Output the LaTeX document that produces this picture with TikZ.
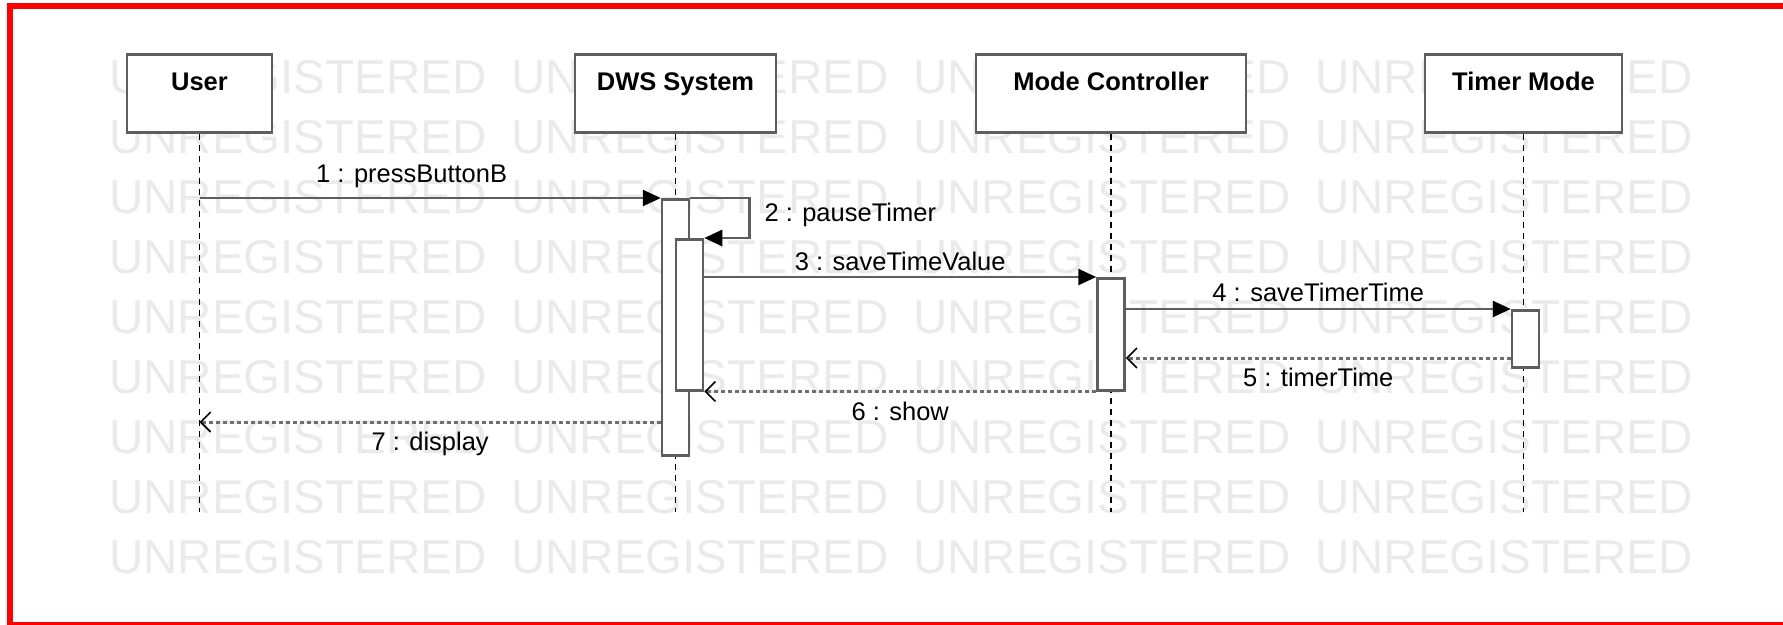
\documentclass[tikz,border=0pt]{standalone}
\usepackage{fontspec}
\setmainfont{Liberation Sans}
\usetikzlibrary{arrows.meta,positioning}

\definecolor{framered}{HTML}{FF0000}
\definecolor{linegray}{HTML}{5E5E5E}
\definecolor{dotgray}{HTML}{6E6E6E}
\definecolor{wmgray}{HTML}{EAEAEA}

\begin{document}
\begin{tikzpicture}[x=1pt, y=-1pt,
    head/.style={draw=linegray, line width=2.5pt, fill=white, anchor=north,
        font=\fontsize{25.5}{30}\selectfont\bfseries,
        text height=36pt, text depth=42pt, inner ysep=0pt, inner xsep=0pt},
    act/.style={draw=linegray, line width=2.5pt, fill=white, anchor=north,
        minimum width=27pt, inner sep=0pt},
    life/.style={black, line width=1.3pt, dash pattern=on 6pt off 5pt},
    call/.style={draw=linegray, line width=2.5pt,
        -{Triangle[length=18pt, width=16pt, color=black]}},
    reply/.style={draw=dotgray, line width=3pt, dash pattern=on 4pt off 3pt,
        -{Straight Barb[length=10pt, width=20pt, line width=1.6pt, color=black]}},
    msg/.style={font=\fontsize{25.5}{30}\selectfont, inner sep=2pt},
    wmark/.style={anchor=west, inner sep=0pt, text=wmgray,
        font=\fontsize{47.5}{50}\selectfont}]
    \useasboundingbox (0,0) rectangle (1783,624);

    % watermark rows
    \foreach \r in {0,...,8}
        \foreach \c in {0,...,3}
            \node[wmark] (wm-\r-\c) at (109+402*\c, 77+60*\r) {UNREGISTERED};

    % frame
    \draw[framered, line width=6pt] (10,624) -- (10,6) -- (1783,6);
    \draw[framered, line width=3pt] (7,623) -- (1783,623);

    % lifeline heads
    \node[head, minimum width=145pt] (user) at (199.5,53) {User};
    \node[head, minimum width=201pt] (dws) at (675.5,53) {DWS System};
    \node[head, minimum width=270pt] (ctrl) at (1111,53) {Mode Controller};
    \node[head, minimum width=197pt] (timer) at (1523.5,53) {Timer Mode};

    % lifelines
    \coordinate (userend) at (user.south |- 0,512);
    \coordinate (dwsend) at (dws.south |- 0,512);
    \coordinate (ctrlend) at (ctrl.south |- 0,512);
    \coordinate (timerend) at (timer.south |- 0,512);
    \draw[life] (user.south) -- (userend);
    \draw[life] (dws.south) -- (dwsend);
    \draw[life] (ctrl.south) -- (ctrlend);
    \draw[life] (timer.south) -- (timerend);

    % activations
    \node[act, minimum height=256pt] (dwsouter) at (675.5,198) {};
    \node[act, minimum height=151pt] (dwsinner) at (689.5,238) {};
    \node[act, minimum height=112pt] (ctrlact) at (1111,277) {};
    \node[act, minimum height=57pt] (timeract) at (1525.5,309) {};

    % messages
    \draw[call] (user.south |- dwsouter.north) -- node[msg, above=7pt, pos=0.46] {1 : pressButtonB} (dwsouter.north west);
    \draw[call] (dwsouter.north east) -- ++(59,0) |- node[msg, right=12pt, pos=0.25, yshift=3pt] {2 : pauseTimer} (dwsinner.north east);
    \draw[call] (dwsinner.east |- ctrlact.north) -- node[msg, above=3pt] {3 : saveTimeValue} (ctrlact.north west);
    \draw[call] (ctrlact.east |- timeract.north) -- node[msg, above=4pt] {4 : saveTimerTime} (timeract.north west);
    \draw[reply] (timeract.west |- 0,358) -- node[msg, below=7pt] {5 : timerTime} (ctrlact.east |- 0,358);
    \draw[reply] (ctrlact.south west) -- node[msg, below=7pt] {6 : show} (dwsinner.south east);
    \draw[reply] (dwsouter.west |- 0,422) -- node[msg, below=7pt] {7 : display} (userend |- 0,422);
\end{tikzpicture}
\end{document}
